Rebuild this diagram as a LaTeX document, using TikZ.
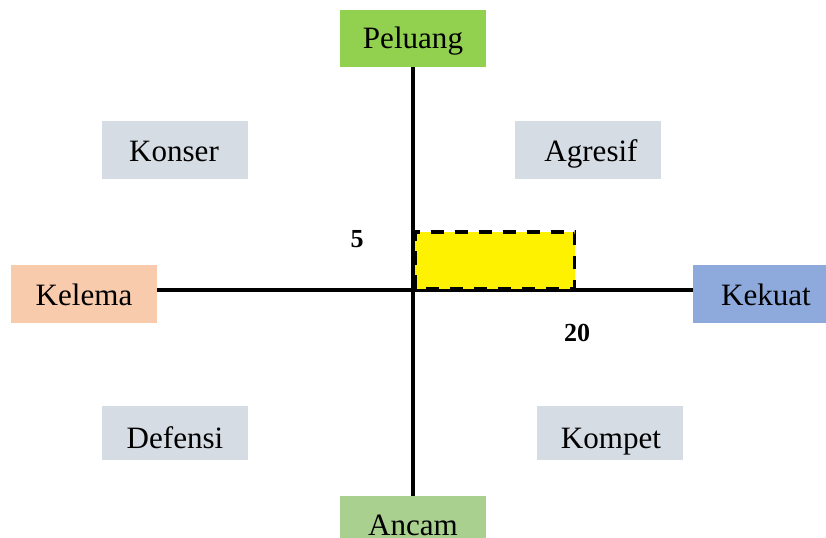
\documentclass[tikz,border=0pt]{standalone}
\usepackage{fontspec}
\setmainfont{Liberation Serif}
\definecolor{cpel}{HTML}{92D050}
\definecolor{canc}{HTML}{A9D08E}
\definecolor{ckel}{HTML}{F8CBAD}
\definecolor{ckek}{HTML}{8EA9DB}
\definecolor{cgry}{HTML}{D6DCE4}
\begin{document}
\begin{tikzpicture}[x=0.75pt,y=-0.75pt,
  box/.style={inner sep=0pt, minimum width=109.5pt, minimum height=43pt},
  txt/.style={inner sep=0pt, anchor=base, font=\fontsize{23.3}{26}\selectfont},
  num/.style={inner sep=0pt, font=\bfseries\fontsize{19.5}{22}\selectfont},
  axis/.style={line width=3.4pt}]
\useasboundingbox (0,0) rectangle (826,537);
\clip (0,0) rectangle (826,537);
\node[box, fill=cpel] (pel) at (413,38.5) {};
\node[box, fill=canc] (anc) at (413,524.5) {};
\node[box, fill=ckel] (kel) at (84,294) {};
\node[box, fill=ckek] (kek) at (766,294) {};
\node[box, fill=cgry] (kon) at (175,150) {};
\node[box, fill=cgry] (agr) at (588,150) {};
\node[box, fill=cgry, minimum height=40.5pt] (def) at (175,433) {};
\node[box, fill=cgry, minimum height=40.5pt] (kom) at (610,433) {};
\node[txt] (tpel) at (413,48.5) {Peluang};
\node[txt] (tanc) at (413,535) {Ancam};
\node[txt] (tkel) at (84,305) {Kelema};
\node[txt] (tkek) at (766,305) {Kekuat};
\node[txt] (tkon) at (174,161) {Konser};
\node[txt] (tagr) at (591,161) {Agresif};
\node[txt] (tdef) at (175,448) {Defensi};
\node[txt] (tkom) at (611,448) {Kompet};
\coordinate (o) at (413,290);
\draw[axis] (pel.south) -- (anc.north);
\draw[axis] (kel.east |- o) -- (kek.west |- o);
\draw[fill=yellow, line width=2.3pt, dash pattern=on 10pt off 8pt] (415,288.5) rectangle (574.5,232);
\node[num] (five) at (357,239.5) {5};
\node[num] (twenty) at (577,333) {20};
\end{tikzpicture}
\end{document}
